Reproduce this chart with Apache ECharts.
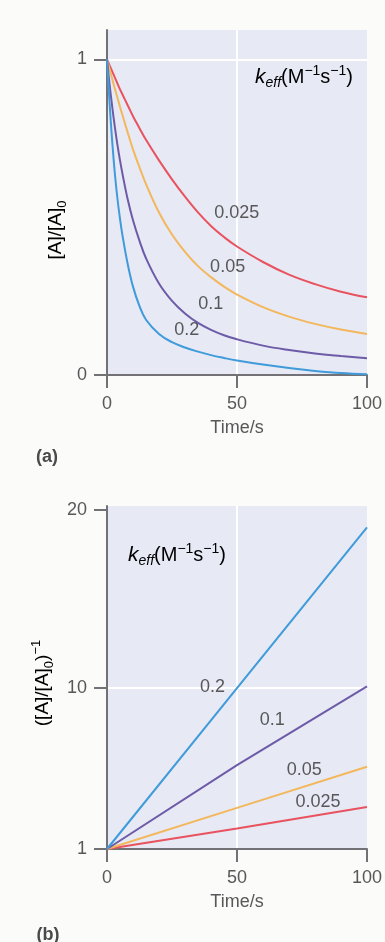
<!DOCTYPE html>
<html>
<head>
<meta charset="utf-8">
<script src="https://cdn.jsdelivr.net/npm/echarts@6/dist/echarts.min.js"></script>
<style>
  html, body { margin: 0; padding: 0; background: #fbfbf9; }
  #main { width: 385px; height: 942px; }
</style>
</head>
<body>
<div id="main"></div>
<script>
// keff values (M^-1 s^-1)
var kNames = ['0.025', '0.05', '0.1', '0.2'];
var kColors = ['#e8535f', '#f3b75c', '#6d5ba8', '#3f9bd9'];

// (a) [A]/[A]0 vs time
var timeA = [0, 1, 2, 3, 4, 5, 6, 8, 10, 12.5, 15, 20, 25, 30, 35, 40, 45, 50, 60, 70, 80, 90, 100];
var ratio025 = [1, 0.981, 0.962, 0.943, 0.924, 0.905, 0.888, 0.854, 0.82, 0.782, 0.745, 0.68, 0.62, 0.565, 0.515, 0.472, 0.437, 0.407, 0.358, 0.318, 0.288, 0.264, 0.246];
var ratio05 = [1, 0.969, 0.938, 0.908, 0.879, 0.85, 0.822, 0.767, 0.715, 0.658, 0.605, 0.515, 0.445, 0.39, 0.345, 0.31, 0.28, 0.255, 0.215, 0.185, 0.162, 0.144, 0.13];
var ratio1 = [1, 0.92, 0.85, 0.787, 0.73, 0.68, 0.635, 0.555, 0.49, 0.425, 0.37, 0.29, 0.235, 0.195, 0.165, 0.143, 0.126, 0.113, 0.093, 0.079, 0.068, 0.06, 0.053];
var ratio2 = [1, 0.86, 0.74, 0.64, 0.56, 0.495, 0.44, 0.35, 0.28, 0.218, 0.175, 0.13, 0.104, 0.087, 0.074, 0.063, 0.054, 0.046, 0.033, 0.022, 0.013, 0.006, 0.002];

// (b) ([A]/[A]0)^-1 vs time
var timeB = [0, 50, 100];
var inv025 = [1, 2.15, 3.35];
var inv05 = [1, 3.3, 5.6];
var inv1 = [1, 5.7, 10.1];
var inv2 = [1, 10, 19];

var ticksA = [0, 1];
var ticksB = [1, 10, 20];
var ticksX = [0, 50, 100];

var textColor = '#58585a';
var axisColor = '#727276';
var fontFam = '"Liberation Sans", Arial, sans-serif';

function pairs(xs, ys) {
  var out = [];
  for (var i = 0; i < xs.length; i++) out.push([xs[i], ys[i]]);
  return out;
}

function makeX(idx) {
  return {
    type: 'value', gridIndex: idx, min: 0, max: 100, interval: 50, z: 3,
    name: 'Time/s', nameLocation: 'middle', nameGap: 44,
    nameTextStyle: { color: textColor, fontSize: 18, fontFamily: fontFam },
    axisLine: { lineStyle: { color: axisColor, width: 2 } },
    axisTick: { length: 13, lineStyle: { color: axisColor, width: 2 }, customValues: ticksX },
    axisLabel: { color: textColor, fontSize: 18, fontFamily: fontFam, margin: 20, customValues: ticksX },
    splitLine: { show: false }
  };
}

function makeY(idx, min, max, ticks) {
  return {
    type: 'value', gridIndex: idx, min: min, max: max, z: 3,
    axisLine: { show: true, lineStyle: { color: axisColor, width: 2 } },
    axisTick: { show: true, length: 13, lineStyle: { color: axisColor, width: 2 }, customValues: ticks },
    axisLabel: { color: textColor, fontSize: 18, fontFamily: fontFam, margin: 20, customValues: ticks },
    splitLine: { show: false }
  };
}

//白色网格线
function gridLines(hVal) {
  return {
    silent: true, symbol: 'none', z: 1,
    label: { show: false },
    lineStyle: { color: '#ffffff', width: 2, type: 'solid' },
    data: [{ yAxis: hVal }, { xAxis: 50 }]
  };
}

var labelStyle = { show: true, color: textColor, fontSize: 18, fontFamily: fontFam };

function curve(idx, i, xs, ys, labelAt, smooth) {
  return {
    name: kNames[i], type: 'line', xAxisIndex: idx, yAxisIndex: idx,
    data: pairs(xs, ys), showSymbol: false, smooth: smooth,
    lineStyle: { color: kColors[i], width: 2 }, itemStyle: { color: kColors[i] },
    markPoint: {
      symbol: 'circle', symbolSize: 0, silent: true,
      label: Object.assign({ formatter: kNames[i] }, labelStyle),
      data: [{ coord: labelAt }]
    }
  };
}

var seriesA = [
  curve(0, 0, timeA, ratio025, [49.9, 0.513], 0.4),
  curve(0, 1, timeA, ratio05, [46.4, 0.342], 0.4),
  curve(0, 2, timeA, ratio1, [39.9, 0.225], 0.4),
  curve(0, 3, timeA, ratio2, [30.7, 0.143], 0.4)
];
seriesA[0].markLine = gridLines(1);

var seriesB = [
  curve(1, 0, timeB, inv025, [81.2, 3.65], false),
  curve(1, 1, timeB, inv05, [75.9, 5.44], false),
  curve(1, 2, timeB, inv1, [63.6, 8.23], false),
  curve(1, 3, timeB, inv2, [40.6, 10.07], false)
];
seriesB[0].markLine = gridLines(10);

var richK = {
  n: { fontSize: 20, color: textColor, fontFamily: fontFam, lineHeight: 26 },
  k: { fontSize: 21, color: textColor, fontFamily: fontFam, fontStyle: 'italic', lineHeight: 26 },
  sub: { fontSize: 14, color: textColor, fontFamily: fontFam, fontStyle: 'italic', verticalAlign: 'bottom', lineHeight: 26 },
  sup: { fontSize: 14, color: textColor, fontFamily: fontFam, verticalAlign: 'top', lineHeight: 26 }
};
var richName = {
  n: { fontSize: 19, color: textColor, fontFamily: fontFam, lineHeight: 26 },
  sub: { fontSize: 13, color: textColor, fontFamily: fontFam, verticalAlign: 'bottom', lineHeight: 26 },
  sup: { fontSize: 13, color: textColor, fontFamily: fontFam, verticalAlign: 'top', lineHeight: 26 }
};
var keffText = '{k|k}{sub|eff}{n|(M}{sup|\u22121}{n|s}{sup|\u22121}{n|)}';

var option = {
  backgroundColor: '#fbfbf9',
  animation: false,
  grid: [
    { left: 107, top: 30, width: 261, height: 345, show: true, backgroundColor: '#e7e9f5', borderWidth: 0 },
    { left: 107, top: 506, width: 261, height: 343, show: true, backgroundColor: '#e7e9f5', borderWidth: 0 }
  ],
  xAxis: [makeX(0), makeX(1)],
  yAxis: [makeY(0, 0, 1.093, ticksA), makeY(1, 1, 20.2, ticksB)],
  series: seriesA.concat(seriesB),
  graphic: [
    { type: 'text', x: 304, y: 77, style: { text: keffText, rich: richK, align: 'center', verticalAlign: 'middle' } },
    { type: 'text', x: 177, y: 555, style: { text: keffText, rich: richK, align: 'center', verticalAlign: 'middle' } },
    { type: 'text', x: 56, y: 230, rotation: Math.PI / 2,
      style: { text: '{n|[A]/[A]}{sub|0}', rich: richName, align: 'center', verticalAlign: 'middle' } },
    { type: 'text', x: 43, y: 683, rotation: Math.PI / 2,
      style: { text: '{n|([A]/[A]}{sub|0}{n|)}{sup|\u22121}', rich: richName, align: 'center', verticalAlign: 'middle' } },
    { type: 'text', x: 47, y: 457, style: { text: '(a)', fill: '#4a4a4c', font: 'bold 18px ' + fontFam, align: 'center', verticalAlign: 'middle' } },
    { type: 'text', x: 48, y: 935, style: { text: '(b)', fill: '#4a4a4c', font: 'bold 18px ' + fontFam, align: 'center', verticalAlign: 'middle' } }
  ]
};

var myChart = echarts.init(document.getElementById('main'));
myChart.setOption(option);
</script>
</body>
</html>
